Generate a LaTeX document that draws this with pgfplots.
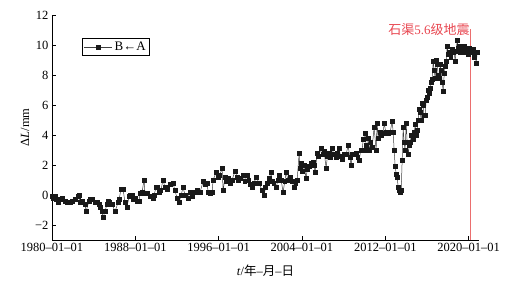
\documentclass[border=0pt]{standalone}
\usepackage{pgfplots}
\pgfplotsset{compat=1.18}
\usepackage{fontspec}
\setmainfont{Liberation Serif}
\newfontfamily\cjk{Noto Sans CJK SC}
\definecolor{eqred}{RGB}{232,70,80}
\definecolor{eqline}{RGB}{235,110,110}
\begin{document}
\begin{tikzpicture}
\useasboundingbox (0,0) rectangle (508pt,287pt);
\begin{axis}[
  at={(52pt,47pt)}, anchor=south west,
  scale only axis, width=427pt, height=225pt,
  xmin=1980, xmax=2021, ymin=-3, ymax=12,
  axis x line*=bottom, axis y line*=left,
  axis line style={-, line width=0.6pt},
  tick style={black, line width=0.5pt},
  major tick length=4pt,
  tick align=inside,
  xtick={1980,1988,1996,2004,2012,2020},
  xticklabels={1980--01--01,1988--01--01,1996--01--01,2004--01--01,2012--01--01,2020--01--01},
  ytick={-2,0,2,4,6,8,10,12},
  yticklabels={−2,0,2,4,6,8,10,12},
  ticklabel style={font=\fontsize{12.5}{14}\selectfont},
  label style={font=\fontsize{12.5}{14}\selectfont},
  xlabel={\textit{t}/{\cjk 年}–{\cjk 月}–{\cjk 日}},
  ylabel={Δ\textit{L}/mm},
  xlabel style={at={(axis description cs:0.5,-0.135)}, anchor=center},
  ylabel style={at={(axis description cs:-0.063,0.5)}, anchor=center, rotate=0},
  legend style={at={(axis description cs:0.070,0.898)}, anchor=north west,
    draw=black, line width=0.8pt, inner sep=1.5pt, font=\fontsize{13}{15}\selectfont,
    legend cell align=left},
  legend image code/.code={
    \draw[#1, mark=none] (0cm,0cm) -- (1.0cm,0cm);
    \draw[#1, only marks] plot coordinates {(0.5cm,0cm)};
  },
  clip=false,
]
\addplot[color=black!75, line width=0.5pt, mark=square*, mark size=1.9pt,
  mark options={fill=black!90, draw=black!90}] coordinates {
(1980.00,-0.1)(1980.10,-0.2)(1980.29,-0.1)(1980.38,-0.3)(1980.58,-0.5)(1980.77,-0.3)
(1981.00,-0.2)(1981.25,-0.4)(1981.44,-0.5)(1981.73,-0.5)(1981.92,-0.4)(1982.20,-0.3)
(1982.50,-0.1)(1982.60,0.0)(1982.69,-0.5)(1982.90,-0.4)(1983.17,-0.6)(1983.27,-1.1)
(1983.55,-0.4)(1983.70,-0.3)(1983.84,-0.3)(1984.10,-0.5)(1984.32,-0.5)(1984.51,-0.6)
(1984.61,-0.8)(1984.80,-1.1)(1984.90,-1.5)(1985.09,-1.1)(1985.28,-0.6)(1985.38,-0.4)
(1985.48,-0.5)(1985.76,-0.6)(1986.05,-1.1)(1986.34,-0.5)(1986.44,-0.3)(1986.63,0.4)
(1986.82,0.4)(1987.01,-0.5)(1987.20,-0.8)(1987.40,-0.1)(1987.49,0.0)(1987.69,0.0)
(1987.78,-0.3)(1988.00,-0.2)(1988.17,-0.4)(1988.36,-0.4)(1988.45,0.1)(1988.65,0.2)
(1988.84,1.0)(1988.93,0.1)(1989.13,0.1)(1989.41,-0.1)(1989.70,-0.2)(1989.80,0.0)
(1989.99,0.5)(1990.09,0.5)(1990.28,0.2)(1990.45,0.3)(1990.66,1.0)(1990.85,0.5)
(1991.05,0.4)(1991.34,0.7)(1991.62,0.8)(1991.80,0.3)(1992.01,-0.2)(1992.20,-0.5)
(1992.40,0.0)(1992.58,0.5)(1992.78,0.0)(1993.06,-0.2)(1993.25,0.2)(1993.45,-0.1)
(1993.74,0.2)(1993.95,0.3)(1994.22,0.2)(1994.51,0.9)(1994.70,0.7)(1994.89,0.8)
(1994.99,0.2)(1995.20,0.1)(1995.37,0.2)(1995.47,1.0)(1995.75,1.5)(1995.95,1.2)
(1996.10,1.3)(1996.33,1.8)(1996.43,0.3)(1996.62,1.2)(1996.75,0.9)(1996.91,1.1)
(1997.10,0.8)(1997.29,1.0)(1997.58,1.6)(1997.77,1.2)(1997.90,1.0)(1998.06,1.1)
(1998.35,1.3)(1998.50,0.9)(1998.73,1.3)(1998.90,1.0)(1999.02,0.7)(1999.21,0.5)
(1999.40,0.8)(1999.60,1.2)(1999.88,0.8)(2000.17,0.3)(2000.37,0.0)(2000.50,0.5)
(2000.65,0.8)(2000.85,1.1)(2001.04,1.5)(2001.13,0.9)(2001.30,0.8)(2001.52,0.5)
(2001.70,1.0)(2001.81,1.3)(2002.00,1.0)(2002.19,0.2)(2002.35,0.9)(2002.48,1.5)
(2002.65,1.0)(2002.77,1.0)(2002.90,1.2)(2003.05,0.9)(2003.25,0.5)(2003.40,0.8)
(2003.54,1.0)(2003.73,2.8)(2003.80,1.8)(2003.92,2.1)(2004.05,1.6)(2004.21,2.0)
(2004.40,1.1)(2004.50,1.7)(2004.70,1.9)(2004.88,2.1)(2005.05,2.2)(2005.17,2.0)
(2005.26,1.5)(2005.46,2.8)(2005.60,2.6)(2005.84,3.1)(2006.00,2.7)(2006.13,2.9)
(2006.32,1.8)(2006.45,2.6)(2006.61,2.8)(2006.75,2.5)(2006.90,3.1)(2007.05,2.7)
(2007.28,2.5)(2007.40,2.8)(2007.57,3.1)(2007.70,2.6)(2007.86,2.4)(2008.05,2.7)
(2008.24,2.7)(2008.43,3.3)(2008.60,2.5)(2008.72,2.0)(2008.85,2.7)(2009.01,2.7)
(2009.20,2.8)(2009.35,2.5)(2009.49,2.3)(2009.65,3.0)(2009.78,3.0)(2009.88,3.7)
(2010.07,4.1)(2010.16,3.3)(2010.26,3.0)(2010.36,3.8)(2010.45,3.0)(2010.60,3.5)
(2010.74,3.2)(2010.93,4.5)(2011.12,3.0)(2011.22,4.8)(2011.32,3.8)(2011.51,4.2)
(2011.65,4.0)(2011.80,4.1)(2011.89,4.8)(2012.05,4.2)(2012.18,4.2)(2012.30,4.1)
(2012.47,4.2)(2012.66,4.9)(2012.76,4.2)(2012.85,3.0)(2012.95,1.9)(2013.05,1.4)
(2013.14,1.2)(2013.24,0.5)(2013.33,0.3)(2013.43,0.2)(2013.53,0.3)(2013.62,2.3)
(2013.72,4.5)(2013.81,3.5)(2013.90,3.0)(2014.01,4.8)(2014.10,3.5)(2014.20,2.7)
(2014.30,3.3)(2014.39,3.5)(2014.50,4.0)(2014.68,3.7)(2014.80,4.2)(2014.87,4.7)
(2014.95,4.0)(2015.06,4.3)(2015.15,5.0)(2015.26,5.7)(2015.35,5.5)(2015.45,5.0)
(2015.54,6.1)(2015.64,6.0)(2015.70,5.3)(2015.83,5.3)(2015.92,6.3)(2016.02,6.5)
(2016.12,7.0)(2016.20,6.8)(2016.31,7.1)(2016.40,7.5)(2016.50,7.7)(2016.60,8.9)
(2016.70,8.3)(2016.79,7.8)(2016.89,9.0)(2016.98,8.7)(2017.08,8.0)(2017.18,7.8)
(2017.28,8.7)(2017.37,8.3)(2017.47,7.5)(2017.56,6.9)(2017.66,8.1)(2017.75,8.6)
(2017.85,8.9)(2017.94,9.9)(2018.04,9.4)(2018.14,9.5)(2018.28,9.2)(2018.42,9.7)
(2018.52,9.5)(2018.61,9.6)(2018.71,8.9)(2018.80,9.6)(2018.90,10.3)(2019.00,9.8)
(2019.10,9.9)(2019.19,9.5)(2019.33,9.8)(2019.48,9.7)(2019.58,9.9)(2019.67,9.5)
(2019.77,9.6)(2019.87,9.7)(2019.96,9.4)(2020.06,9.8)(2020.15,9.6)(2020.25,9.5)
(2020.35,9.5)(2020.45,9.7)(2020.54,9.2)(2020.64,9.5)(2020.73,8.8)(2020.83,9.5)
};
\addlegendentry{B←A}
\addplot[color=eqline, line width=1pt, forget plot] coordinates {(2020.2,-3)(2020.2,11.05)};
\node[anchor=east, inner sep=0pt, text=eqred, font=\fontsize{13}{15}\selectfont]
  at (axis cs:2020.12,11.0) {{\cjk 石渠}5.6{\cjk 级地震}};
\end{axis}
\end{tikzpicture}
\end{document}
